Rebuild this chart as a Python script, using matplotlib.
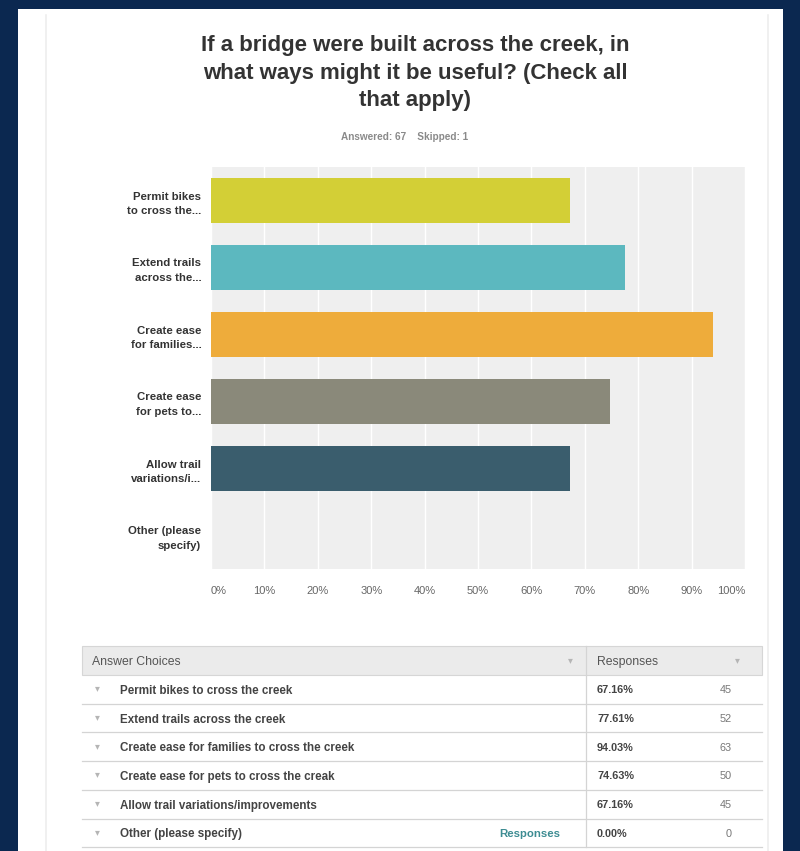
import matplotlib
matplotlib.use("Agg")
import matplotlib.pyplot as plt
from matplotlib.patches import Rectangle

plt.rcParams['font.family'] = ['Liberation Sans', 'DejaVu Sans']

# ---- data ----
short_labels = ["Permit bikes\nto cross the...", "Extend trails\nacross the...",
                "Create ease\nfor families...", "Create ease\nfor pets to...",
                "Allow trail\nvariations/i...", "Other (please\nspecify)"]
choices = ["Permit bikes to cross the creek", "Extend trails across the creek",
           "Create ease for families to cross the creek", "Create ease for pets to cross the creak",
           "Allow trail variations/improvements", "Other (please specify)"]
percents = [67.16, 77.61, 94.03, 74.63, 67.16, 0.00]
counts = [45, 52, 63, 50, 45, 0]
colors = ["#d3cf36", "#5cb8bf", "#eeac3b", "#8a897a", "#3a5d6d", "#c9c9c9"]
ticks = [0, 10, 20, 30, 40, 50, 60, 70, 80, 90, 100]
tick_labels = [f"{t}%" for t in ticks]

W, H = 800, 851
fig = plt.figure(figsize=(W / 100, H / 100), dpi=100, facecolor="#0b2850")

# background overlay in pixel coordinates
bg = fig.add_axes([0, 0, 1, 1], zorder=0)
bg.set_xlim(0, W)
bg.set_ylim(H, 0)
bg.axis("off")
bg.add_patch(Rectangle((18, 9), 765, 850, facecolor="white", edgecolor="none"))
bg.plot([46, 46], [15, 851], color="#eeeeee", lw=1.2)
bg.plot([768, 768], [15, 851], color="#eeeeee", lw=1.2)

# title
bg.text(415, 73, "If a bridge were built across the creek, in\nwhat ways might it be useful? (Check all\nthat apply)",
        ha="center", va="center", fontsize=16, fontweight="bold", color="#333333",
        linespacing=1.38)
bg.text(405, 137, "Answered: 67    Skipped: 1", ha="center", va="center",
        fontsize=7.2, color="#8a8a8a", fontweight="bold")

# ---- chart ----
ax = fig.add_axes([211 / W, 1 - 569 / H, 534 / W, 402 / H], zorder=1)
ax.set_facecolor("#efefef")
y = list(range(len(percents)))
ax.barh(y, percents, height=0.67, color=colors, zorder=2)
ax.set_xlim(0, 100)
ax.set_ylim(len(percents) - 0.5, -0.5)
ax.set_xticks(ticks)
ax.set_xticklabels(tick_labels)
for i, lab in enumerate(ax.get_xticklabels()):
    if i == 0:
        lab.set_ha("left")
    elif i == len(ticks) - 1:
        lab.set_ha("right")
ax.tick_params(axis="x", length=0, pad=12, labelsize=8, labelcolor="#666666")
ax.set_yticks(y)
ax.set_yticklabels(short_labels, fontsize=8.2, fontweight="bold", color="#333333", linespacing=1.55)
ax.tick_params(axis="y", length=0, pad=7)
ax.grid(axis="x", color="white", lw=1.0, zorder=1)
ax.set_axisbelow(True)
for s in ax.spines.values():
    s.set_visible(False)

# ---- table ----
tx0, tx1, tdiv = 82, 762, 586
top, hdr_bot = 646, 675
row_h = 28.7
bg.add_patch(Rectangle((tx0, top), tx1 - tx0, hdr_bot - top, facecolor="#ebebeb",
                       edgecolor="#d6d6d6", lw=0.8))
hy = (top + hdr_bot) / 2
bg.text(92, hy, "Answer Choices", ha="left", va="center_baseline", fontsize=8.8, color="#555555")
bg.text(597, hy, "Responses", ha="left", va="center_baseline", fontsize=8.8, color="#555555")
bg.text(570, hy, "▾", ha="center", va="center", fontsize=7, color="#b5b5b5")
bg.text(737, hy, "▾", ha="center", va="center", fontsize=7, color="#b5b5b5")
for i, (c, p, n) in enumerate(zip(choices, percents, counts)):
    yc = hdr_bot + row_h * (i + 0.5)
    bg.text(97, yc - 1, "▾", ha="center", va="center", fontsize=7, color="#b5b5b5")
    bg.text(120, yc, c, ha="left", va="center_baseline", fontsize=8.4, fontweight="bold", color="#444444")
    bg.text(597, yc, f"{p:.2f}%", ha="left", va="center_baseline", fontsize=7.8, fontweight="bold", color="#444444")
    bg.text(732, yc, str(n), ha="right", va="center_baseline", fontsize=7.8, color="#777777")
    yl = hdr_bot + row_h * (i + 1)
    bg.plot([tx0, tx1], [yl, yl], color="#d4d4d4", lw=0.9)
bg.text(530, hdr_bot + row_h * 5.5, "Responses", ha="center", va="center_baseline", fontsize=8.2,
        fontweight="bold", color="#3d8c92")
bg.plot([tdiv, tdiv], [top, hdr_bot + row_h * 6], color="#d4d4d4", lw=0.9)

fig.savefig("out.png", dpi=100, facecolor=fig.get_facecolor())
